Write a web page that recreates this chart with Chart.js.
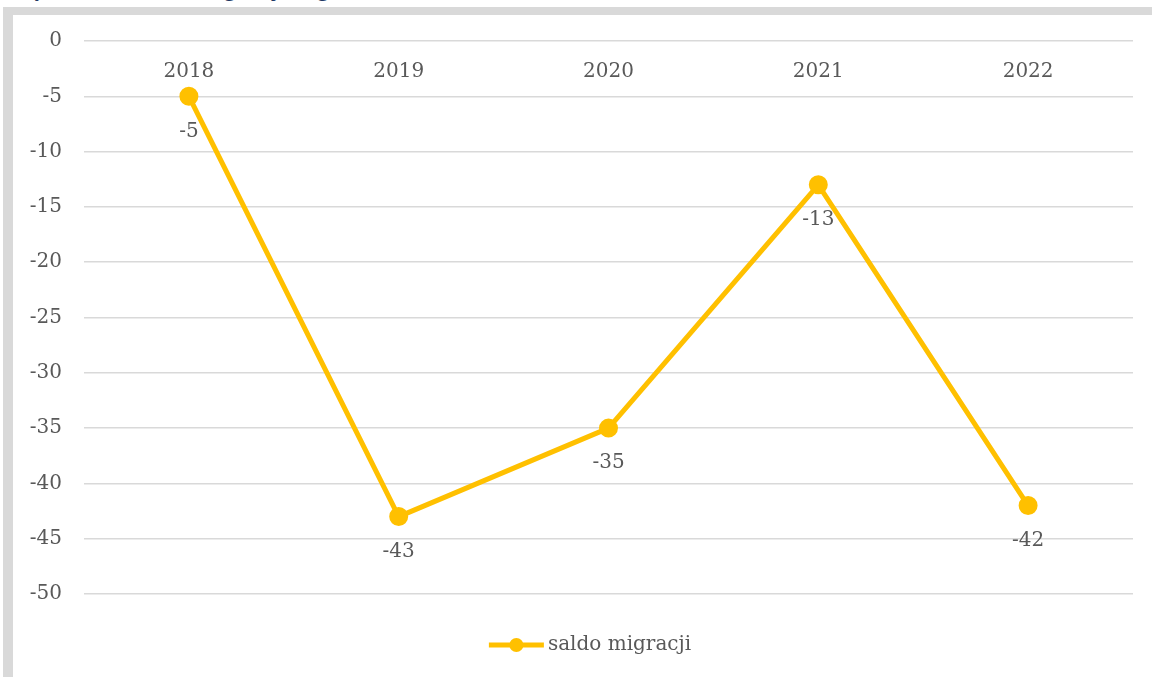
<!DOCTYPE html>
<html>
<head>
<meta charset="utf-8">
<script src="https://cdn.jsdelivr.net/npm/chart.js@4"></script>
<style>
  html, body { margin: 0; padding: 0; background: #ffffff; width: 1152px; height: 677px; overflow: hidden; position: relative; }
  #title { position: absolute; left: 8px; top: -27px; font-family: Lato, "Open Sans", sans-serif; font-weight: bold; font-style: italic; font-size: 27px; line-height: 27px; color: #1F3864; white-space: nowrap; }
  #frame { position: absolute; left: 3px; top: 7px; width: 1300px; height: 800px; border-left: 10px solid #d9d9d9; border-top: 8px solid #d9d9d9; background: #ffffff; }
  #wrap { position: absolute; left: 0; top: 0; width: 1152px; height: 677px; }
</style>
</head>
<body>
<div id="title">Wykres 5. Saldo migracji w gminie w latach 2018-2022</div>
<div id="frame"></div>
<div id="wrap"><canvas id="c"></canvas></div>
<script>
const categories = ['2018', '2019', '2020', '2021', '2022'];
const saldoMigracji = [-5, -43, -35, -13, -42];
const seriesLabel = 'saldo migracji';
const yMin = -50, yMax = 0, yStep = 5;

const FONT = '"DejaVu Serif", Cambria, serif';
const FSIZE = 20;
const TEXT = '#595959';
const LINE = '#FFC000';

const pointLabels = {
  id: 'pointLabels',
  afterDatasetsDraw(chart) {
    const ctx = chart.ctx;
    const meta = chart.getDatasetMeta(0);
    ctx.save();
    ctx.font = FSIZE + 'px ' + FONT;
    ctx.fillStyle = TEXT;
    ctx.textAlign = 'center';
    ctx.textBaseline = 'middle';
    meta.data.forEach((pt, i) => {
      ctx.fillText(String(chart.data.datasets[0].data[i]), pt.x, pt.y + 35);
    });
    ctx.restore();
  }
};

const customLegend = {
  id: 'customLegend',
  afterDraw(chart) {
    const ctx = chart.ctx;
    const ds = chart.data.datasets[0];
    ctx.save();
    ctx.font = FSIZE + 'px ' + FONT;
    const tw = ctx.measureText(ds.label).width;
    const symW = 55, gap = 4;
    const total = symW + gap + tw;
    const cx = 590, cy = 645;
    const x0 = cx - total / 2;
    ctx.strokeStyle = ds.borderColor;
    ctx.lineWidth = 5;
    ctx.beginPath();
    ctx.moveTo(x0, cy);
    ctx.lineTo(x0 + symW, cy);
    ctx.stroke();
    ctx.fillStyle = ds.pointBackgroundColor;
    ctx.beginPath();
    ctx.arc(x0 + symW / 2, cy, 7, 0, Math.PI * 2);
    ctx.fill();
    ctx.fillStyle = TEXT;
    ctx.textAlign = 'left';
    ctx.textBaseline = 'middle';
    ctx.fillText(ds.label, x0 + symW + gap, cy);
    ctx.restore();
  }
};

new Chart(document.getElementById('c'), {
  type: 'line',
  data: {
    labels: categories,
    datasets: [{
      label: seriesLabel,
      data: saldoMigracji,
      borderColor: LINE,
      backgroundColor: LINE,
      pointBackgroundColor: LINE,
      pointBorderColor: LINE,
      borderWidth: 5,
      pointRadius: 7,
      pointHoverRadius: 7,
      tension: 0,
      borderCapStyle: 'round',
      borderJoinStyle: 'round'
    }]
  },
  options: {
    responsive: true,
    maintainAspectRatio: false,
    animation: false,
    events: [],
    layout: { padding: { left: 10, top: 41, right: 19, bottom: 83 } },
    plugins: {
      legend: { display: false },
      tooltip: { enabled: false },
      title: { display: false }
    },
    scales: {
      x: {
        position: { y: 0 },
        offset: true,
        grid: { display: false, drawTicks: false },
        border: { display: false },
        ticks: { color: TEXT, font: { family: FONT, size: FSIZE }, padding: 19 }
      },
      y: {
        min: yMin,
        max: yMax,
        ticks: { stepSize: yStep, color: TEXT, font: { family: FONT, size: FSIZE }, padding: 22 },
        grid: { color: '#d9d9d9', lineWidth: 1.5, drawTicks: false },
        border: { display: false },
        afterFit(scale) { scale.width = 74; }
      }
    }
  },
  plugins: [pointLabels, customLegend]
});
</script>
</body>
</html>
